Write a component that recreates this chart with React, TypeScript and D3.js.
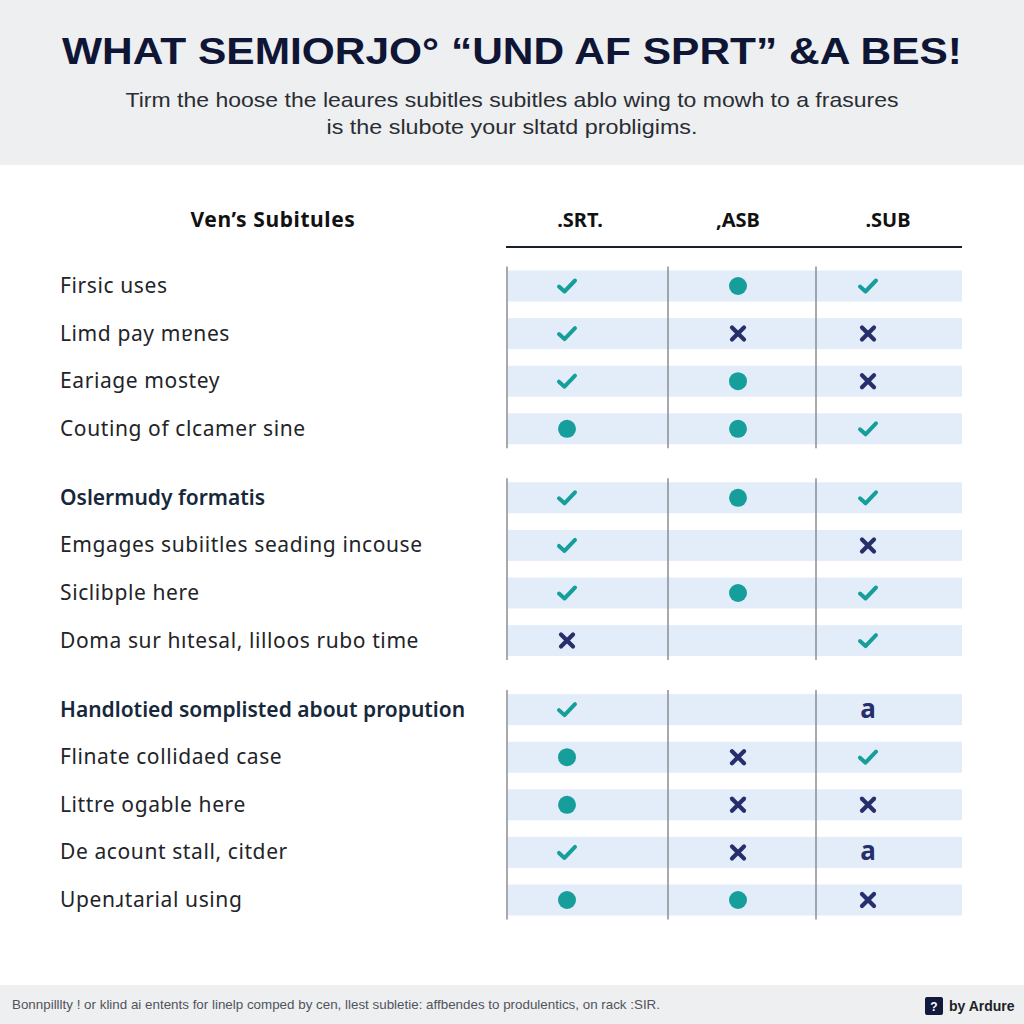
import React from "react";
import * as d3 from "d3";

const titleText = "WHAT SEMIORJO° “UND AF SPRT” &A BES!";
const subtitleLines = [
  "Tirm the hoose the leaures subitles subitles ablo wing to mowh to a frasures",
  "is the slubote your sltatd probligims.",
];
const tableTitle = "Ven’s Subitules";
const columns = [".SRT.", ",ASB", ".SUB"];

const rowLabels = [
  "Firsic uses",
  "Limd pay mɐnes",
  "Eariage mostey",
  "Couting of clcamer sine",
  "Oslermudy formatis",
  "Emgages subiitles seading incouse",
  "Siclibple here",
  "Doma sur hıtesal, lilloos rubo time",
  "Handlotied somplisted about propution",
  "Flinate collidaed case",
  "Littre ogable here",
  "De acount stall, citder",
  "Upenɹtarial using",
];
const rowSection = [0, 0, 0, 0, 1, 1, 1, 1, 2, 2, 2, 2, 2];
const rowBold = [false, false, false, false, true, false, false, false, true, false, false, false, false];

// marks: "check", "dot", "cross", "a", "" (empty)
const srtValues = ["check", "check", "check", "dot", "check", "check", "check", "cross", "check", "dot", "dot", "check", "dot"];
const asbValues = ["dot", "cross", "dot", "dot", "dot", "", "dot", "", "", "cross", "cross", "cross", "dot"];
const subValues = ["check", "cross", "cross", "check", "check", "cross", "check", "check", "a", "check", "cross", "a", "cross"];

const footerText =
  "Bonnpilllty ! or klind ai entents for linelp comped by cen, llest subletie: affbendes to produlentics, on rack :SIR.";
const footerBrand = "by Ardure";

const TEAL = "#169e9b";
const NAVY = "#262f6c";

function Mark({ kind, x, y }: { kind: string; x: number; y: number }) {
  if (kind === "check") {
    return (
      <path
        d={`M${x - 8},${y + 0.5} L${x - 2.5},${y + 5.5} L${x + 8},${y - 5.5}`}
        fill="none"
        stroke={TEAL}
        strokeWidth={4}
        strokeLinecap="round"
        strokeLinejoin="round"
      />
    );
  }
  if (kind === "dot") return <circle cx={x} cy={y} r={9} fill={TEAL} />;
  if (kind === "cross") {
    const s = 6;
    return (
      <g stroke={NAVY} strokeWidth={4.2} strokeLinecap="round">
        <line x1={x - s} y1={y - s} x2={x + s} y2={y + s} />
        <line x1={x - s} y1={y + s} x2={x + s} y2={y - s} />
      </g>
    );
  }
  if (kind === "a")
    return (
      <text x={x} y={y + 8} textAnchor="middle" fontFamily="Noto Sans, sans-serif" fontWeight={700} fontSize={26} fill={NAVY}>
        a
      </text>
    );
  return null;
}

export default function App() {
  const W = 1024;
  const H = 1024;
  const sectionGap = 0.45;
  const slot = rowLabels.map((_, i) => i + rowSection[i] * sectionGap);
  const y = d3.scaleLinear().domain([0, 12 + 2 * sectionGap]).range([286, 900]);
  const colCenters = [567, 738, 868];
  const headerX = [580, 738, 888];
  const colLines = [507, 668, 816];
  const bandLeft = 508;
  const bandRight = 962;
  const bandH = 31;

  const sections = d3.groups(
    rowLabels.map((l, i) => ({ i, sec: rowSection[i] })),
    (d) => d.sec
  );
  const colVals = [srtValues, asbValues, subValues];

  return (
    <svg width={W} height={H} style={{ position: "absolute", left: 0, top: 0 }}>
      <rect x={0} y={0} width={W} height={H} fill="#ffffff" />
      <rect x={0} y={0} width={W} height={165} fill="#eeeff1" />
      <text
        x={512}
        y={64}
        textAnchor="middle"
        fontFamily="Liberation Sans, Arial, sans-serif"
        fontWeight={700}
        fontSize={37}
        fill="#0f1535"
        textLength={900}
        lengthAdjust="spacingAndGlyphs"
      >
        {titleText}
      </text>
      {subtitleLines.map((t, i) => (
        <text
          key={i}
          x={512}
          y={107 + i * 27}
          textAnchor="middle"
          fontFamily="Liberation Sans, Arial, sans-serif"
          fontSize={21}
          fill="#2a2d33"
          textLength={i === 0 ? 773 : 371}
          lengthAdjust="spacingAndGlyphs"
        >
          {t}
        </text>
      ))}

      {/* table header */}
      <text x={273} y={227} textAnchor="middle" fontFamily="Noto Sans, sans-serif" fontWeight={700} fontSize={21} letterSpacing={0.6} fill="#111">
        {tableTitle}
      </text>
      {columns.map((c, j) => (
        <text key={c} x={headerX[j]} y={227} textAnchor="middle" fontFamily="Noto Sans, sans-serif" fontWeight={700} fontSize={20} fill="#111">
          {c}
        </text>
      ))}
      <line x1={506} x2={962} y1={247} y2={247} stroke="#1a1f2e" strokeWidth={2} />

      {/* bands */}
      {rowLabels.map((_, i) => (
        <rect key={i} x={bandLeft} y={y(slot[i]) - bandH / 2} width={bandRight - bandLeft} height={bandH} fill="#e3edfa" />
      ))}
      {/* column separators per section */}
      {sections.map(([sec, rows]) => {
        const top = y(slot[rows[0].i]) - bandH / 2 - 4;
        const bot = y(slot[rows[rows.length - 1].i]) + bandH / 2 + 4;
        return colLines.map((lx) => (
          <line key={`${sec}-${lx}`} x1={lx} x2={lx} y1={top} y2={bot} stroke="#8a8d92" strokeWidth={1.5} />
        ));
      })}
      {/* marks */}
      {rowLabels.map((_, i) =>
        colVals.map((vals, j) => <Mark key={`${i}-${j}`} kind={vals[i]} x={colCenters[j]} y={y(slot[i])} />)
      )}
      {/* row labels */}
      {rowLabels.map((l, i) => (
        <text
          key={l}
          x={60}
          y={y(slot[i]) + 7}
          fontFamily="Noto Sans, sans-serif"
          fontSize={21}
          letterSpacing={rowBold[i] ? 0 : 0.6}
          fontWeight={rowBold[i] ? 600 : 400}
          fill={rowBold[i] ? "#16283a" : "#222428"}
        >
          {l}
        </text>
      ))}

      {/* footer */}
      <rect x={0} y={985} width={W} height={39} fill="#eeeff1" />
      <text x={12} y={1009} fontFamily="Liberation Sans, Arial, sans-serif" fontSize={13} fill="#50545c" textLength={648} lengthAdjust="spacingAndGlyphs">
        {footerText}
      </text>
      <rect x={925} y={997} width={18} height={18} rx={2} fill="#111a3d" />
      <text x={934} y={1011} textAnchor="middle" fontFamily="Liberation Sans, Arial, sans-serif" fontWeight={700} fontSize={12} fill="#fff">
        ?
      </text>
      <text x={949} y={1011} fontFamily="Liberation Sans, Arial, sans-serif" fontWeight={700} fontSize={14} fill="#1c1f26">
        {footerBrand}
      </text>
    </svg>
  );
}
